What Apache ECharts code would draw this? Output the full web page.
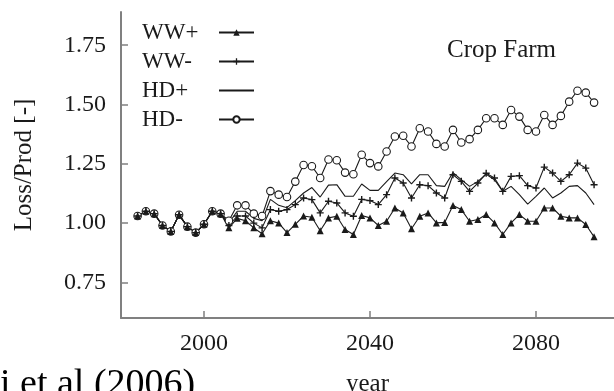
<!DOCTYPE html>
<html>
<head>
<meta charset="utf-8">
<script src="https://cdn.jsdelivr.net/npm/echarts@6/dist/echarts.min.js"></script>
<style>
  html, body { margin: 0; padding: 0; background: #fff; }
  #chart { width: 614px; height: 391px; }
</style>
</head>
<body>
<div id="chart"></div>
<script>
// Simulation years (every second year)
const years = [];
for (let y = 1984; y <= 2094; y += 2) years.push(y);

// Shared historical run, 1984-2004
const historical = [1.03, 1.05, 1.04, 0.99, 0.965, 1.035, 0.985, 0.96, 0.995, 1.05, 1.04];

// Scenario runs, 2006-2094
const wwPlus = [0.98, 1.02, 1.01, 0.98, 0.955,
  1.01, 1.0, 0.96, 0.995, 1.03, 1.025, 0.968, 1.022, 1.029, 0.973,
  0.952, 1.032, 1.022, 0.99, 1.008, 1.064, 1.043, 0.976, 1.029, 1.043,
  1.001, 1.003, 1.074, 1.057, 1.008, 1.015, 1.036, 1.001, 0.952, 1.001,
  1.036, 1.008, 1.008, 1.064, 1.064, 1.029, 1.022, 1.022, 0.994, 0.942];
const wwMinus = [0.99, 1.03, 1.03, 1.0, 0.98,
  1.057, 1.05, 1.057, 1.078, 1.106, 1.099, 1.043, 1.092, 1.085, 1.043,
  1.029, 1.10, 1.095, 1.078, 1.12, 1.19, 1.169, 1.106, 1.162, 1.158,
  1.127, 1.106, 1.204, 1.176, 1.134, 1.169, 1.21, 1.19, 1.134, 1.197,
  1.2, 1.158, 1.148, 1.236, 1.211, 1.176, 1.204, 1.253, 1.232, 1.162];
const hdPlus = [1.0, 1.05, 1.05, 1.02, 1.01,
  1.10, 1.075, 1.065, 1.095, 1.127, 1.15, 1.11, 1.16, 1.162, 1.113,
  1.113, 1.165, 1.138, 1.138, 1.175, 1.211, 1.204, 1.165, 1.204, 1.204,
  1.158, 1.155, 1.213, 1.183, 1.155, 1.176, 1.206, 1.183, 1.134, 1.155,
  1.12, 1.08, 1.113, 1.148, 1.106, 1.127, 1.155, 1.158, 1.127, 1.078];
const hdMinus = [1.01, 1.075, 1.075, 1.04, 1.03,
  1.135, 1.12, 1.11, 1.175, 1.245, 1.24, 1.19, 1.268, 1.265, 1.213,
  1.206, 1.288, 1.253, 1.239, 1.302, 1.365, 1.368, 1.323, 1.40, 1.386,
  1.334, 1.323, 1.393, 1.34, 1.354, 1.393, 1.442, 1.442, 1.414, 1.477,
  1.449, 1.393, 1.386, 1.456, 1.414, 1.452, 1.512, 1.558, 1.55, 1.508];

const yTicks = [0.75, 1.00, 1.25, 1.50, 1.75];
const xTicks = [2000, 2040, 2080];

const serif = '"Liberation Serif", "DejaVu Serif", serif';
const ink = '#1a1a1a';
const axisGrey = '#808080';

function pairs(scenario) {
  const full = historical.concat(scenario);
  return years.map((y, i) => [y, full[i]]);
}

const plusPath = 'path://M-1,-5 H1 V-1 H5 V1 H1 V5 H-1 V1 H-5 V-1 H-1 Z';

const chart = echarts.init(document.getElementById('chart'), null, { renderer: 'canvas' });
chart.setOption({
  animation: false,
  backgroundColor: '#fff',
  grid: { left: 121, right: 0, top: 12, bottom: 73, containLabel: false, outerBoundsMode: 'none' },
  title: {
    text: 'Crop Farm', left: 442, top: 33,
    textStyle: { fontFamily: serif, fontSize: 25, fontWeight: 'normal', color: ink }
  },
  legend: {
    orient: 'vertical', left: 137, top: 16, align: 'right',
    itemWidth: 35, itemHeight: 8, itemGap: 6,
    data: [
      'WW+', 'WW-',
      { name: 'HD+', itemStyle: { color: 'rgba(0,0,0,0)', borderColor: 'rgba(0,0,0,0)', borderWidth: 0 } },
      'HD-'
    ],
    formatter: name => '{t|' + name + '}',
    textStyle: {
      fontFamily: serif, fontSize: 23, color: ink, lineHeight: 23,
      rich: { t: { width: 72, align: 'left', fontFamily: serif, fontSize: 23, color: ink, lineHeight: 23 } }
    }
  },
  xAxis: {
    type: 'value', min: 1980, max: 2098.8,
    name: 'year', nameLocation: 'middle', nameGap: 54,
    nameTextStyle: { fontFamily: serif, fontSize: 25, color: ink },
    axisLine: { show: true, lineStyle: { color: axisGrey, width: 2 } },
    axisTick: { show: true, inside: true, length: 7, customValues: xTicks, lineStyle: { color: axisGrey, width: 1.5 } },
    axisLabel: {
      customValues: xTicks, margin: 14, fontFamily: serif, fontSize: 24, color: ink,
      formatter: v => String(v)
    },
    splitLine: { show: false }
  },
  yAxis: {
    type: 'value', min: 0.6, max: 1.89,
    name: 'Loss/Prod [-]', nameLocation: 'middle', nameGap: 84,
    nameTextStyle: { fontFamily: serif, fontSize: 25, color: ink },
    axisLine: { show: true, lineStyle: { color: axisGrey, width: 2 } },
    axisTick: { show: true, inside: true, length: 7, customValues: yTicks, lineStyle: { color: axisGrey, width: 1.5 } },
    axisLabel: {
      customValues: yTicks, margin: 15, fontFamily: serif, fontSize: 24, color: ink,
      formatter: v => v.toFixed(2)
    },
    splitLine: { show: false }
  },
  series: [
    {
      name: 'HD-', type: 'line', data: pairs(hdMinus),
      symbol: 'circle', symbolSize: 7.5, showAllSymbol: true,
      lineStyle: { color: ink, width: 1.1 },
      itemStyle: { color: '#fff', borderColor: ink, borderWidth: 1.1 }
    },
    {
      name: 'HD+', type: 'line', data: pairs(hdPlus),
      symbol: 'none',
      lineStyle: { color: ink, width: 1.1 },
      itemStyle: { color: ink }
    },
    {
      name: 'WW-', type: 'line', data: pairs(wwMinus),
      symbol: plusPath, symbolSize: 7, showAllSymbol: true,
      lineStyle: { color: ink, width: 1.1 },
      itemStyle: { color: ink }
    },
    {
      name: 'WW+', type: 'line', data: pairs(wwPlus),
      symbol: 'triangle', symbolSize: 7, showAllSymbol: true,
      lineStyle: { color: ink, width: 1.1 },
      itemStyle: { color: ink }
    }
  ],
  graphic: [
    {
      type: 'text', left: 0, top: 366,
      style: { text: 'i et al (2006)', font: '38px ' + serif, fill: '#000' }
    }
  ]
});
</script>
</body>
</html>
